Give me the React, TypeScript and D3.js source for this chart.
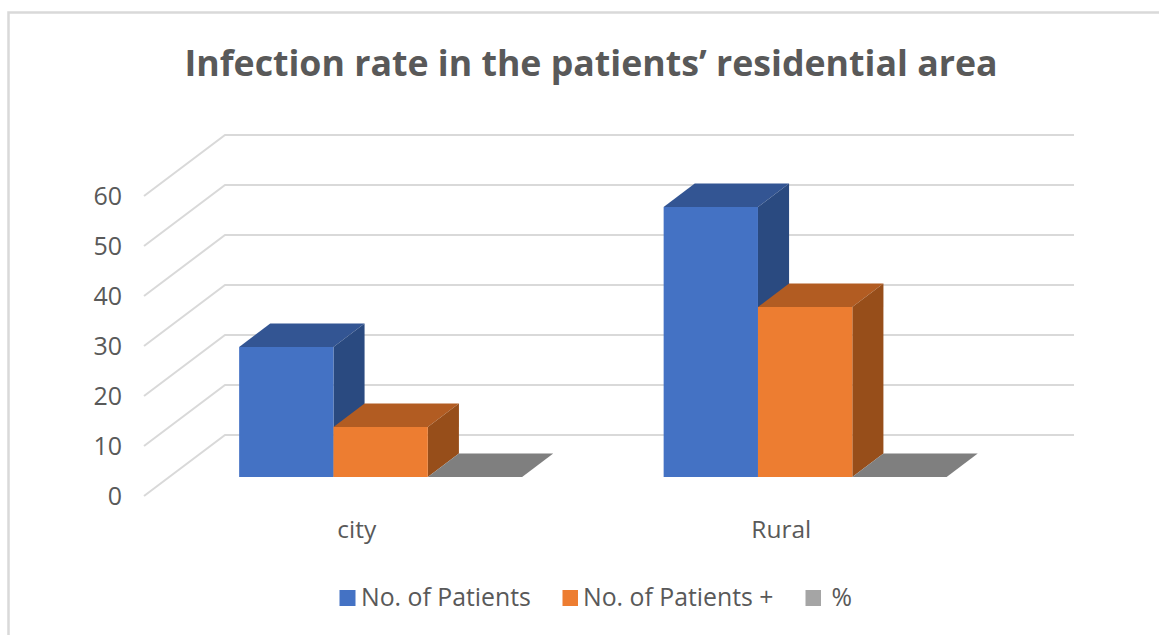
import React, { useEffect, useRef } from 'react';
import * as d3 from 'd3';

const categories = ['city', 'Rural'];
const seriesNames = ['No. of Patients', 'No. of Patients +', '%'];
const patients = [26, 54];
const patientsPositive = [10, 34];
const percent = [0, 0];
const yTicks = [0, 10, 20, 30, 40, 50, 60];

const seriesValues = [patients, patientsPositive, percent];
const frontColors = ['#4472C4', '#ED7D31', '#7F7F7F'];
const topColors = ['#335593', '#B25C22', '#7F7F7F'];
const sideColors = ['#2A4A80', '#974E1A', '#7F7F7F'];
const legendColors = ['#4472C4', '#ED7D31', '#A5A5A5'];
const legendBoxX = [339.5, 562.5, 805.5];
const legendTextX = [361, 583, 831.5];

const width = 1159;
const height = 635;
const font = '"Open Sans", "Noto Sans", sans-serif';
const textColor = '#595959';

// oblique 3d: how far the back wall is shifted from the front of the floor
const wallDx = 81;
const wallDy = 61;
const barFront = 0.311;
const barBack = 0.695;
const barShift = -0.8;

const App = () => {
  const ref = useRef<SVGSVGElement>(null);

  useEffect(() => {
    const svg = d3.select(ref.current);
    svg.selectAll('*').remove();

    const xScale = d3.scaleBand<string>()
      .domain(categories)
      .range([144, 993])
      .paddingInner(1 / 3)
      .paddingOuter(1 / 6);
    const seriesScale = d3.scaleBand<string>()
      .domain(seriesNames)
      .range([0, xScale.bandwidth()]);
    const yScale = d3.scaleLinear().domain([0, 60]).range([496, 196]);

    // project a point (front x, front y, depth 0..1) on to the screen
    const project = (x: number, y: number, d: number): [number, number] => [x + wallDx * d, y - wallDy * d];
    const poly = d3.line();

    // frame, only the top and left edge are visible in the crop
    svg.append('path')
      .attr('d', poly([[8.5, height], [8.5, 12.5], [width, 12.5]]))
      .attr('fill', 'none')
      .attr('stroke', '#D9D9D9')
      .attr('stroke-width', 2.5);

    svg.append('text')
      .attr('x', 591)
      .attr('y', 76)
      .attr('text-anchor', 'middle')
      .attr('font-family', font)
      .attr('font-size', 35.7)
      .attr('font-weight', 700)
      .attr('fill', textColor)
      .text('Infection rate in the patients’ residential area');

    // gridlines: side wall then back wall
    svg.append('g')
      .selectAll('path')
      .data(yTicks)
      .join('path')
      .attr('d', v => poly([
        [144, yScale(v)],
        project(144, yScale(v), 1),
        project(993, yScale(v), 1),
      ]))
      .attr('fill', 'none')
      .attr('stroke', '#D9D9D9')
      .attr('stroke-width', 2);

    // value axis
    const yAxis = svg.append('g')
      .attr('transform', 'translate(122, 0)')
      .call(d3.axisLeft(yScale).tickValues(yTicks).tickSize(0).tickPadding(0));
    yAxis.select('.domain').remove();
    yAxis.selectAll('text')
      .attr('font-family', font)
      .attr('font-size', 25)
      .attr('fill', textColor);

    // category axis
    const xAxis = svg.append('g')
      .attr('transform', 'translate(0.5, 521)')
      .call(d3.axisBottom(xScale).tickSize(0).tickPadding(0));
    xAxis.select('.domain').remove();
    xAxis.selectAll('text')
      .attr('font-family', font)
      .attr('font-size', 24.5)
      .attr('fill', textColor);

    // bars, back to front of the series so side faces overlap properly
    categories.forEach((cat, c) => {
      seriesNames.forEach((name, s) => {
        const value = seriesValues[s][c];
        const x0 = xScale(cat)! + seriesScale(name)! + barShift;
        const x1 = x0 + seriesScale.bandwidth();
        const yBase = yScale(0);
        const yTop = yScale(value);
        const g = svg.append('g');

        g.append('path')
          .attr('d', poly([
            project(x0, yTop, barFront),
            project(x1, yTop, barFront),
            project(x1, yTop, barBack),
            project(x0, yTop, barBack),
          ])! + 'Z')
          .attr('fill', topColors[s]);

        if (value > 0) {
          g.append('path')
            .attr('d', poly([
              project(x1, yBase, barFront),
              project(x1, yTop, barFront),
              project(x1, yTop, barBack),
              project(x1, yBase, barBack),
            ])! + 'Z')
            .attr('fill', sideColors[s]);

          g.append('path')
            .attr('d', poly([
              project(x0, yBase, barFront),
              project(x0, yTop, barFront),
              project(x1, yTop, barFront),
              project(x1, yBase, barFront),
            ])! + 'Z')
            .attr('fill', frontColors[s]);
        }
      });
    });

    // legend
    const legend = svg.append('g');
    seriesNames.forEach((name, i) => {
      legend.append('rect')
        .attr('x', legendBoxX[i])
        .attr('y', 590)
        .attr('width', i === 0 ? 16 : 15.5)
        .attr('height', 16)
        .attr('fill', legendColors[i]);
      legend.append('text')
        .attr('x', legendTextX[i])
        .attr('y', 606)
        .attr('font-family', font)
        .attr('font-size', 24.8)
        .attr('fill', textColor)
        .text(name);
    });
  });

  return (
    <svg
      ref={ref}
      width={width}
      height={height}
      style={{ position: 'fixed', left: 0, top: 0, background: '#fff' }}
    />
  );
};

export default App;
